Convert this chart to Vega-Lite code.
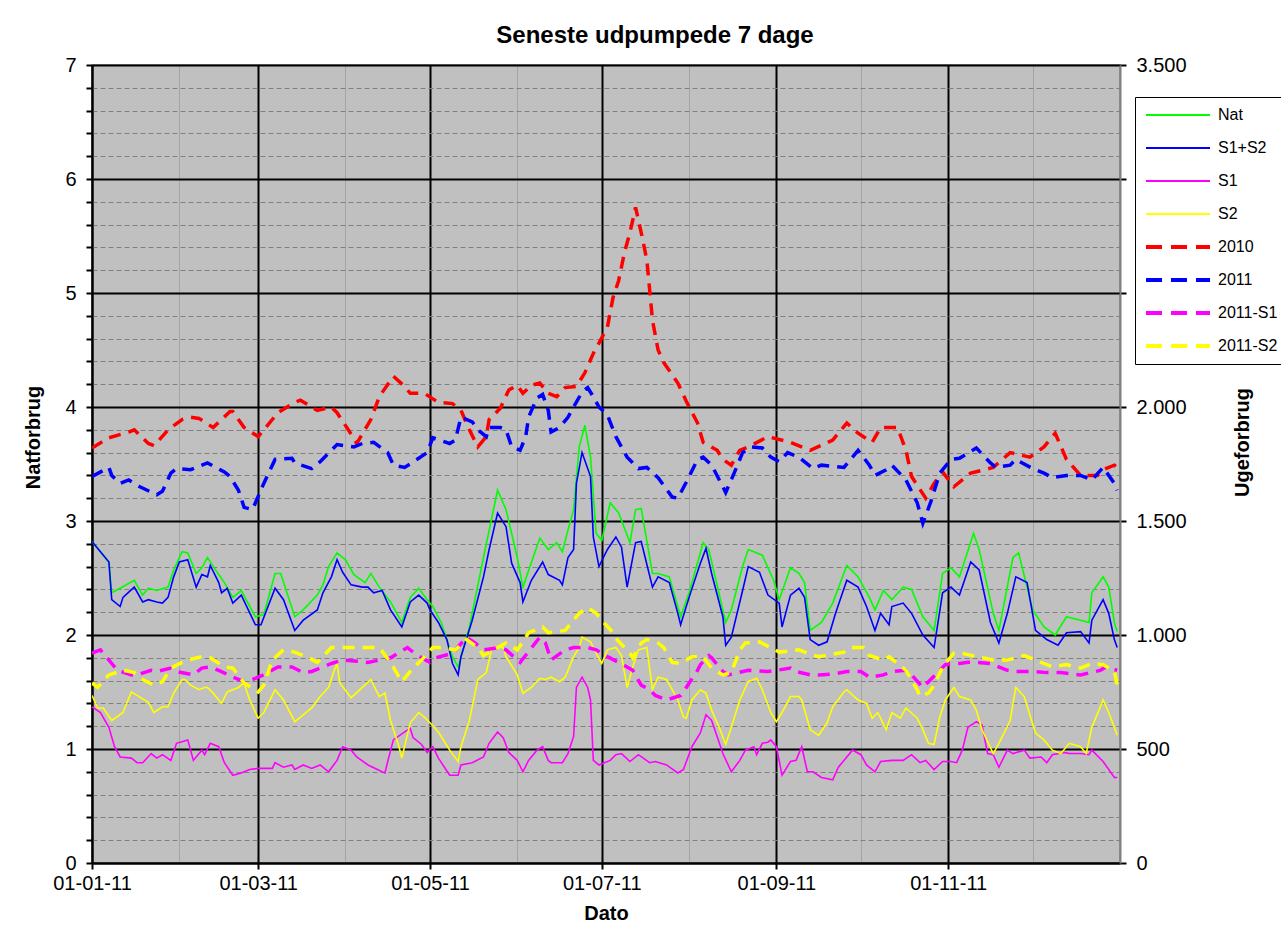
{
  "$schema": "https://vega.github.io/schema/vega-lite/v6.json",
  "width": 1028,
  "height": 798,
  "autosize": {"type": "none"},
  "padding": {"left": 92, "top": 65, "right": 161, "bottom": 78},
  "background": "#ffffff",
  "title": {"text": "Seneste udpumpede 7 dage", "font": "Liberation Sans", "fontSize": 24, "fontWeight": "bold", "color": "#000000", "anchor": "middle", "frame": "group", "dx": 49, "offset": 7},
  "datasets": {
    "solid": [
      {"d":"2011-01-01","s":"Nat","v":2.82},{"d":"2011-01-07","s":"Nat","v":2.64},{"d":"2011-01-08","s":"Nat","v":2.37},{"d":"2011-01-11","s":"Nat","v":2.41},{"d":"2011-01-16","s":"Nat","v":2.48},{"d":"2011-01-19","s":"Nat","v":2.35},{"d":"2011-01-21","s":"Nat","v":2.41},{"d":"2011-01-24","s":"Nat","v":2.39},{"d":"2011-01-28","s":"Nat","v":2.42},{"d":"2011-01-30","s":"Nat","v":2.57},
      {"d":"2011-02-02","s":"Nat","v":2.73},{"d":"2011-02-04","s":"Nat","v":2.72},{"d":"2011-02-07","s":"Nat","v":2.54},{"d":"2011-02-09","s":"Nat","v":2.59},{"d":"2011-02-11","s":"Nat","v":2.68},{"d":"2011-02-15","s":"Nat","v":2.53},{"d":"2011-02-17","s":"Nat","v":2.46},{"d":"2011-02-20","s":"Nat","v":2.33},{"d":"2011-02-23","s":"Nat","v":2.39},{"d":"2011-02-28","s":"Nat","v":2.16},
      {"d":"2011-03-03","s":"Nat","v":2.18},{"d":"2011-03-07","s":"Nat","v":2.54},{"d":"2011-03-09","s":"Nat","v":2.54},{"d":"2011-03-14","s":"Nat","v":2.16},{"d":"2011-03-17","s":"Nat","v":2.22},{"d":"2011-03-22","s":"Nat","v":2.35},{"d":"2011-03-24","s":"Nat","v":2.44},{"d":"2011-03-26","s":"Nat","v":2.6},{"d":"2011-03-29","s":"Nat","v":2.72},
      {"d":"2011-04-01","s":"Nat","v":2.66},{"d":"2011-04-04","s":"Nat","v":2.53},{"d":"2011-04-08","s":"Nat","v":2.46},{"d":"2011-04-10","s":"Nat","v":2.54},{"d":"2011-04-13","s":"Nat","v":2.42},{"d":"2011-04-17","s":"Nat","v":2.29},{"d":"2011-04-21","s":"Nat","v":2.11},{"d":"2011-04-24","s":"Nat","v":2.33},{"d":"2011-04-27","s":"Nat","v":2.41},{"d":"2011-04-30","s":"Nat","v":2.31},
      {"d":"2011-05-02","s":"Nat","v":2.25},{"d":"2011-05-05","s":"Nat","v":2.11},{"d":"2011-05-09","s":"Nat","v":1.81},{"d":"2011-05-11","s":"Nat","v":1.72},{"d":"2011-05-15","s":"Nat","v":2.07},{"d":"2011-05-20","s":"Nat","v":2.68},{"d":"2011-05-25","s":"Nat","v":3.27},{"d":"2011-05-28","s":"Nat","v":3.1},
      {"d":"2011-06-01","s":"Nat","v":2.68},{"d":"2011-06-03","s":"Nat","v":2.42},{"d":"2011-06-09","s":"Nat","v":2.85},{"d":"2011-06-12","s":"Nat","v":2.75},{"d":"2011-06-15","s":"Nat","v":2.81},{"d":"2011-06-17","s":"Nat","v":2.73},{"d":"2011-06-19","s":"Nat","v":2.92},{"d":"2011-06-21","s":"Nat","v":3.1},{"d":"2011-06-23","s":"Nat","v":3.65},{"d":"2011-06-25","s":"Nat","v":3.84},{"d":"2011-06-27","s":"Nat","v":3.56},{"d":"2011-06-29","s":"Nat","v":2.89},
      {"d":"2011-07-01","s":"Nat","v":2.83},{"d":"2011-07-04","s":"Nat","v":3.16},{"d":"2011-07-07","s":"Nat","v":3.07},{"d":"2011-07-11","s":"Nat","v":2.81},{"d":"2011-07-13","s":"Nat","v":3.1},{"d":"2011-07-15","s":"Nat","v":3.11},{"d":"2011-07-19","s":"Nat","v":2.54},{"d":"2011-07-21","s":"Nat","v":2.54},{"d":"2011-07-25","s":"Nat","v":2.51},{"d":"2011-07-29","s":"Nat","v":2.16},
      {"d":"2011-08-01","s":"Nat","v":2.37},{"d":"2011-08-06","s":"Nat","v":2.81},{"d":"2011-08-08","s":"Nat","v":2.75},{"d":"2011-08-13","s":"Nat","v":2.22},{"d":"2011-08-14","s":"Nat","v":2.11},{"d":"2011-08-16","s":"Nat","v":2.22},{"d":"2011-08-20","s":"Nat","v":2.6},{"d":"2011-08-22","s":"Nat","v":2.75},{"d":"2011-08-27","s":"Nat","v":2.7},{"d":"2011-08-31","s":"Nat","v":2.48},
      {"d":"2011-09-02","s":"Nat","v":2.31},{"d":"2011-09-06","s":"Nat","v":2.59},{"d":"2011-09-09","s":"Nat","v":2.54},{"d":"2011-09-11","s":"Nat","v":2.46},{"d":"2011-09-13","s":"Nat","v":2.04},{"d":"2011-09-17","s":"Nat","v":2.11},{"d":"2011-09-21","s":"Nat","v":2.28},{"d":"2011-09-26","s":"Nat","v":2.61},{"d":"2011-09-30","s":"Nat","v":2.51},
      {"d":"2011-10-04","s":"Nat","v":2.33},{"d":"2011-10-06","s":"Nat","v":2.22},{"d":"2011-10-09","s":"Nat","v":2.39},{"d":"2011-10-12","s":"Nat","v":2.31},{"d":"2011-10-16","s":"Nat","v":2.42},{"d":"2011-10-19","s":"Nat","v":2.4},{"d":"2011-10-23","s":"Nat","v":2.16},{"d":"2011-10-27","s":"Nat","v":2.04},{"d":"2011-10-30","s":"Nat","v":2.54},
      {"d":"2011-11-02","s":"Nat","v":2.59},{"d":"2011-11-05","s":"Nat","v":2.51},{"d":"2011-11-10","s":"Nat","v":2.89},{"d":"2011-11-12","s":"Nat","v":2.75},{"d":"2011-11-17","s":"Nat","v":2.19},{"d":"2011-11-19","s":"Nat","v":2.04},{"d":"2011-11-24","s":"Nat","v":2.68},{"d":"2011-11-26","s":"Nat","v":2.72},
      {"d":"2011-12-01","s":"Nat","v":2.22},{"d":"2011-12-05","s":"Nat","v":2.07},{"d":"2011-12-09","s":"Nat","v":2.0},{"d":"2011-12-13","s":"Nat","v":2.16},{"d":"2011-12-18","s":"Nat","v":2.13},{"d":"2011-12-21","s":"Nat","v":2.11},{"d":"2011-12-22","s":"Nat","v":2.37},{"d":"2011-12-26","s":"Nat","v":2.51},{"d":"2011-12-28","s":"Nat","v":2.42},{"d":"2011-12-30","s":"Nat","v":2.11},{"d":"2011-12-31","s":"Nat","v":2.03},

      {"d":"2011-01-01","s":"S1+S2","v":2.82},{"d":"2011-01-07","s":"S1+S2","v":2.64},{"d":"2011-01-08","s":"S1+S2","v":2.31},{"d":"2011-01-11","s":"S1+S2","v":2.25},{"d":"2011-01-12","s":"S1+S2","v":2.33},{"d":"2011-01-16","s":"S1+S2","v":2.42},{"d":"2011-01-19","s":"S1+S2","v":2.29},{"d":"2011-01-21","s":"S1+S2","v":2.31},{"d":"2011-01-24","s":"S1+S2","v":2.29},{"d":"2011-01-26","s":"S1+S2","v":2.28},{"d":"2011-01-28","s":"S1+S2","v":2.33},{"d":"2011-01-30","s":"S1+S2","v":2.51},
      {"d":"2011-02-01","s":"S1+S2","v":2.64},{"d":"2011-02-04","s":"S1+S2","v":2.66},{"d":"2011-02-07","s":"S1+S2","v":2.42},{"d":"2011-02-09","s":"S1+S2","v":2.53},{"d":"2011-02-11","s":"S1+S2","v":2.51},{"d":"2011-02-12","s":"S1+S2","v":2.61},{"d":"2011-02-15","s":"S1+S2","v":2.46},{"d":"2011-02-16","s":"S1+S2","v":2.37},{"d":"2011-02-18","s":"S1+S2","v":2.41},{"d":"2011-02-20","s":"S1+S2","v":2.28},{"d":"2011-02-23","s":"S1+S2","v":2.35},{"d":"2011-02-28","s":"S1+S2","v":2.09},
      {"d":"2011-03-02","s":"S1+S2","v":2.09},{"d":"2011-03-07","s":"S1+S2","v":2.41},{"d":"2011-03-10","s":"S1+S2","v":2.31},{"d":"2011-03-14","s":"S1+S2","v":2.04},{"d":"2011-03-17","s":"S1+S2","v":2.13},{"d":"2011-03-22","s":"S1+S2","v":2.22},{"d":"2011-03-24","s":"S1+S2","v":2.37},{"d":"2011-03-27","s":"S1+S2","v":2.51},{"d":"2011-03-29","s":"S1+S2","v":2.66},{"d":"2011-03-31","s":"S1+S2","v":2.55},
      {"d":"2011-04-03","s":"S1+S2","v":2.44},{"d":"2011-04-07","s":"S1+S2","v":2.42},{"d":"2011-04-09","s":"S1+S2","v":2.42},{"d":"2011-04-11","s":"S1+S2","v":2.37},{"d":"2011-04-14","s":"S1+S2","v":2.39},{"d":"2011-04-17","s":"S1+S2","v":2.22},{"d":"2011-04-21","s":"S1+S2","v":2.07},{"d":"2011-04-24","s":"S1+S2","v":2.29},{"d":"2011-04-27","s":"S1+S2","v":2.35},{"d":"2011-04-30","s":"S1+S2","v":2.28},
      {"d":"2011-05-01","s":"S1+S2","v":2.22},{"d":"2011-05-04","s":"S1+S2","v":2.11},{"d":"2011-05-07","s":"S1+S2","v":1.96},{"d":"2011-05-09","s":"S1+S2","v":1.75},{"d":"2011-05-11","s":"S1+S2","v":1.65},{"d":"2011-05-12","s":"S1+S2","v":1.81},{"d":"2011-05-16","s":"S1+S2","v":2.13},{"d":"2011-05-20","s":"S1+S2","v":2.51},{"d":"2011-05-22","s":"S1+S2","v":2.75},{"d":"2011-05-25","s":"S1+S2","v":3.07},{"d":"2011-05-28","s":"S1+S2","v":2.95},{"d":"2011-05-30","s":"S1+S2","v":2.63},
      {"d":"2011-06-02","s":"S1+S2","v":2.46},{"d":"2011-06-03","s":"S1+S2","v":2.29},{"d":"2011-06-06","s":"S1+S2","v":2.48},{"d":"2011-06-10","s":"S1+S2","v":2.64},{"d":"2011-06-12","s":"S1+S2","v":2.53},{"d":"2011-06-16","s":"S1+S2","v":2.48},{"d":"2011-06-17","s":"S1+S2","v":2.44},{"d":"2011-06-19","s":"S1+S2","v":2.68},{"d":"2011-06-21","s":"S1+S2","v":2.75},{"d":"2011-06-22","s":"S1+S2","v":3.33},{"d":"2011-06-24","s":"S1+S2","v":3.6},{"d":"2011-06-27","s":"S1+S2","v":3.39},{"d":"2011-06-28","s":"S1+S2","v":2.86},{"d":"2011-06-30","s":"S1+S2","v":2.6},
      {"d":"2011-07-03","s":"S1+S2","v":2.75},{"d":"2011-07-06","s":"S1+S2","v":2.86},{"d":"2011-07-08","s":"S1+S2","v":2.77},{"d":"2011-07-10","s":"S1+S2","v":2.42},{"d":"2011-07-13","s":"S1+S2","v":2.81},{"d":"2011-07-15","s":"S1+S2","v":2.82},{"d":"2011-07-19","s":"S1+S2","v":2.42},{"d":"2011-07-21","s":"S1+S2","v":2.51},{"d":"2011-07-25","s":"S1+S2","v":2.46},{"d":"2011-07-28","s":"S1+S2","v":2.19},{"d":"2011-07-29","s":"S1+S2","v":2.09},
      {"d":"2011-08-01","s":"S1+S2","v":2.33},{"d":"2011-08-05","s":"S1+S2","v":2.63},{"d":"2011-08-07","s":"S1+S2","v":2.76},{"d":"2011-08-09","s":"S1+S2","v":2.54},{"d":"2011-08-13","s":"S1+S2","v":2.16},{"d":"2011-08-14","s":"S1+S2","v":1.91},{"d":"2011-08-16","s":"S1+S2","v":1.98},{"d":"2011-08-20","s":"S1+S2","v":2.39},{"d":"2011-08-22","s":"S1+S2","v":2.6},{"d":"2011-08-26","s":"S1+S2","v":2.55},{"d":"2011-08-29","s":"S1+S2","v":2.35},
      {"d":"2011-09-02","s":"S1+S2","v":2.28},{"d":"2011-09-03","s":"S1+S2","v":2.07},{"d":"2011-09-06","s":"S1+S2","v":2.35},{"d":"2011-09-09","s":"S1+S2","v":2.41},{"d":"2011-09-11","s":"S1+S2","v":2.33},{"d":"2011-09-13","s":"S1+S2","v":1.96},{"d":"2011-09-16","s":"S1+S2","v":1.91},{"d":"2011-09-19","s":"S1+S2","v":1.94},{"d":"2011-09-22","s":"S1+S2","v":2.19},{"d":"2011-09-26","s":"S1+S2","v":2.48},{"d":"2011-09-30","s":"S1+S2","v":2.42},
      {"d":"2011-10-03","s":"S1+S2","v":2.25},{"d":"2011-10-06","s":"S1+S2","v":2.04},{"d":"2011-10-08","s":"S1+S2","v":2.19},{"d":"2011-10-11","s":"S1+S2","v":2.09},{"d":"2011-10-12","s":"S1+S2","v":2.25},{"d":"2011-10-16","s":"S1+S2","v":2.28},{"d":"2011-10-19","s":"S1+S2","v":2.19},{"d":"2011-10-23","s":"S1+S2","v":2.0},{"d":"2011-10-27","s":"S1+S2","v":1.89},{"d":"2011-10-30","s":"S1+S2","v":2.37},
      {"d":"2011-11-02","s":"S1+S2","v":2.42},{"d":"2011-11-05","s":"S1+S2","v":2.35},{"d":"2011-11-09","s":"S1+S2","v":2.64},{"d":"2011-11-12","s":"S1+S2","v":2.57},{"d":"2011-11-16","s":"S1+S2","v":2.11},{"d":"2011-11-19","s":"S1+S2","v":1.93},{"d":"2011-11-22","s":"S1+S2","v":2.19},{"d":"2011-11-25","s":"S1+S2","v":2.51},{"d":"2011-11-29","s":"S1+S2","v":2.46},
      {"d":"2011-12-02","s":"S1+S2","v":2.04},{"d":"2011-12-06","s":"S1+S2","v":1.96},{"d":"2011-12-10","s":"S1+S2","v":1.91},{"d":"2011-12-13","s":"S1+S2","v":2.02},{"d":"2011-12-18","s":"S1+S2","v":2.03},{"d":"2011-12-21","s":"S1+S2","v":1.93},{"d":"2011-12-22","s":"S1+S2","v":2.13},{"d":"2011-12-26","s":"S1+S2","v":2.31},{"d":"2011-12-28","s":"S1+S2","v":2.19},{"d":"2011-12-30","s":"S1+S2","v":1.96},{"d":"2011-12-31","s":"S1+S2","v":1.89},

      {"d":"2011-01-01","s":"S1","v":1.37},{"d":"2011-01-04","s":"S1","v":1.32},{"d":"2011-01-07","s":"S1","v":1.19},{"d":"2011-01-09","s":"S1","v":1.02},{"d":"2011-01-11","s":"S1","v":0.93},{"d":"2011-01-15","s":"S1","v":0.92},{"d":"2011-01-17","s":"S1","v":0.88},{"d":"2011-01-19","s":"S1","v":0.88},{"d":"2011-01-22","s":"S1","v":0.96},{"d":"2011-01-24","s":"S1","v":0.92},{"d":"2011-01-26","s":"S1","v":0.95},{"d":"2011-01-29","s":"S1","v":0.9},{"d":"2011-01-31","s":"S1","v":1.05},
      {"d":"2011-02-04","s":"S1","v":1.08},{"d":"2011-02-06","s":"S1","v":0.9},{"d":"2011-02-09","s":"S1","v":0.99},{"d":"2011-02-10","s":"S1","v":0.95},{"d":"2011-02-12","s":"S1","v":1.05},{"d":"2011-02-15","s":"S1","v":1.02},{"d":"2011-02-17","s":"S1","v":0.88},{"d":"2011-02-20","s":"S1","v":0.77},{"d":"2011-02-23","s":"S1","v":0.79},{"d":"2011-02-26","s":"S1","v":0.82},
      {"d":"2011-03-01","s":"S1","v":0.83},{"d":"2011-03-06","s":"S1","v":0.83},{"d":"2011-03-07","s":"S1","v":0.88},{"d":"2011-03-10","s":"S1","v":0.84},{"d":"2011-03-13","s":"S1","v":0.86},{"d":"2011-03-14","s":"S1","v":0.82},{"d":"2011-03-17","s":"S1","v":0.86},{"d":"2011-03-20","s":"S1","v":0.83},{"d":"2011-03-23","s":"S1","v":0.86},{"d":"2011-03-26","s":"S1","v":0.8},{"d":"2011-03-29","s":"S1","v":0.9},{"d":"2011-03-31","s":"S1","v":1.02},
      {"d":"2011-04-03","s":"S1","v":0.99},{"d":"2011-04-05","s":"S1","v":0.93},{"d":"2011-04-09","s":"S1","v":0.86},{"d":"2011-04-14","s":"S1","v":0.8},{"d":"2011-04-15","s":"S1","v":0.79},{"d":"2011-04-16","s":"S1","v":0.89},{"d":"2011-04-18","s":"S1","v":1.08},{"d":"2011-04-22","s":"S1","v":1.15},{"d":"2011-04-24","s":"S1","v":1.18},{"d":"2011-04-25","s":"S1","v":1.1},{"d":"2011-04-28","s":"S1","v":1.04},{"d":"2011-04-30","s":"S1","v":0.97},
      {"d":"2011-05-02","s":"S1","v":1.02},{"d":"2011-05-03","s":"S1","v":0.97},{"d":"2011-05-04","s":"S1","v":0.92},{"d":"2011-05-08","s":"S1","v":0.77},{"d":"2011-05-11","s":"S1","v":0.77},{"d":"2011-05-12","s":"S1","v":0.86},{"d":"2011-05-16","s":"S1","v":0.88},{"d":"2011-05-20","s":"S1","v":0.93},{"d":"2011-05-22","s":"S1","v":1.05},{"d":"2011-05-25","s":"S1","v":1.15},{"d":"2011-05-27","s":"S1","v":1.1},{"d":"2011-05-29","s":"S1","v":0.97},
      {"d":"2011-06-01","s":"S1","v":0.9},{"d":"2011-06-03","s":"S1","v":0.8},{"d":"2011-06-05","s":"S1","v":0.9},{"d":"2011-06-08","s":"S1","v":0.99},{"d":"2011-06-10","s":"S1","v":1.02},{"d":"2011-06-12","s":"S1","v":0.9},{"d":"2011-06-13","s":"S1","v":0.88},{"d":"2011-06-17","s":"S1","v":0.88},{"d":"2011-06-19","s":"S1","v":0.96},{"d":"2011-06-21","s":"S1","v":1.11},{"d":"2011-06-22","s":"S1","v":1.54},{"d":"2011-06-24","s":"S1","v":1.63},{"d":"2011-06-26","s":"S1","v":1.54},{"d":"2011-06-27","s":"S1","v":1.43},{"d":"2011-06-28","s":"S1","v":0.9},{"d":"2011-06-30","s":"S1","v":0.86},
      {"d":"2011-07-04","s":"S1","v":0.9},{"d":"2011-07-06","s":"S1","v":0.95},{"d":"2011-07-08","s":"S1","v":0.96},{"d":"2011-07-11","s":"S1","v":0.89},{"d":"2011-07-14","s":"S1","v":0.95},{"d":"2011-07-18","s":"S1","v":0.88},{"d":"2011-07-20","s":"S1","v":0.89},{"d":"2011-07-24","s":"S1","v":0.86},{"d":"2011-07-28","s":"S1","v":0.79},{"d":"2011-07-30","s":"S1","v":0.82},
      {"d":"2011-08-02","s":"S1","v":1.02},{"d":"2011-08-05","s":"S1","v":1.14},{"d":"2011-08-07","s":"S1","v":1.3},{"d":"2011-08-09","s":"S1","v":1.25},{"d":"2011-08-13","s":"S1","v":0.96},{"d":"2011-08-16","s":"S1","v":0.8},{"d":"2011-08-19","s":"S1","v":0.9},{"d":"2011-08-21","s":"S1","v":0.99},{"d":"2011-08-24","s":"S1","v":1.02},{"d":"2011-08-25","s":"S1","v":0.95},{"d":"2011-08-27","s":"S1","v":1.05},{"d":"2011-08-29","s":"S1","v":1.06},{"d":"2011-08-30","s":"S1","v":1.08},
      {"d":"2011-09-01","s":"S1","v":1.02},{"d":"2011-09-03","s":"S1","v":0.77},{"d":"2011-09-06","s":"S1","v":0.89},{"d":"2011-09-08","s":"S1","v":0.9},{"d":"2011-09-10","s":"S1","v":1.02},{"d":"2011-09-12","s":"S1","v":0.8},{"d":"2011-09-14","s":"S1","v":0.8},{"d":"2011-09-17","s":"S1","v":0.75},{"d":"2011-09-21","s":"S1","v":0.73},{"d":"2011-09-23","s":"S1","v":0.84},{"d":"2011-09-26","s":"S1","v":0.93},{"d":"2011-09-28","s":"S1","v":0.99},
      {"d":"2011-10-01","s":"S1","v":0.95},{"d":"2011-10-03","s":"S1","v":0.86},{"d":"2011-10-06","s":"S1","v":0.8},{"d":"2011-10-08","s":"S1","v":0.89},{"d":"2011-10-12","s":"S1","v":0.9},{"d":"2011-10-16","s":"S1","v":0.9},{"d":"2011-10-19","s":"S1","v":0.95},{"d":"2011-10-22","s":"S1","v":0.88},{"d":"2011-10-24","s":"S1","v":0.9},{"d":"2011-10-27","s":"S1","v":0.82},{"d":"2011-10-30","s":"S1","v":0.89},
      {"d":"2011-11-02","s":"S1","v":0.89},{"d":"2011-11-04","s":"S1","v":0.88},{"d":"2011-11-06","s":"S1","v":0.99},{"d":"2011-11-08","s":"S1","v":1.19},{"d":"2011-11-11","s":"S1","v":1.24},{"d":"2011-11-13","s":"S1","v":1.21},{"d":"2011-11-15","s":"S1","v":0.96},{"d":"2011-11-17","s":"S1","v":0.95},{"d":"2011-11-19","s":"S1","v":0.84},{"d":"2011-11-22","s":"S1","v":0.99},{"d":"2011-11-24","s":"S1","v":0.96},{"d":"2011-11-28","s":"S1","v":0.99},{"d":"2011-11-30","s":"S1","v":0.92},
      {"d":"2011-12-04","s":"S1","v":0.93},{"d":"2011-12-06","s":"S1","v":0.88},{"d":"2011-12-08","s":"S1","v":0.95},{"d":"2011-12-12","s":"S1","v":0.97},{"d":"2011-12-14","s":"S1","v":0.96},{"d":"2011-12-18","s":"S1","v":0.96},{"d":"2011-12-21","s":"S1","v":0.95},{"d":"2011-12-22","s":"S1","v":0.99},{"d":"2011-12-26","s":"S1","v":0.89},{"d":"2011-12-30","s":"S1","v":0.75},{"d":"2011-12-31","s":"S1","v":0.75},

      {"d":"2011-01-01","s":"S2","v":1.47},{"d":"2011-01-03","s":"S2","v":1.36},{"d":"2011-01-05","s":"S2","v":1.36},{"d":"2011-01-08","s":"S2","v":1.25},{"d":"2011-01-12","s":"S2","v":1.32},{"d":"2011-01-15","s":"S2","v":1.5},{"d":"2011-01-17","s":"S2","v":1.47},{"d":"2011-01-21","s":"S2","v":1.41},{"d":"2011-01-23","s":"S2","v":1.32},{"d":"2011-01-26","s":"S2","v":1.37},{"d":"2011-01-28","s":"S2","v":1.37},{"d":"2011-01-30","s":"S2","v":1.49},
      {"d":"2011-02-02","s":"S2","v":1.61},{"d":"2011-02-03","s":"S2","v":1.61},{"d":"2011-02-05","s":"S2","v":1.56},{"d":"2011-02-08","s":"S2","v":1.52},{"d":"2011-02-10","s":"S2","v":1.54},{"d":"2011-02-11","s":"S2","v":1.54},{"d":"2011-02-13","s":"S2","v":1.49},{"d":"2011-02-16","s":"S2","v":1.4},{"d":"2011-02-18","s":"S2","v":1.5},{"d":"2011-02-22","s":"S2","v":1.54},{"d":"2011-02-24","s":"S2","v":1.58},{"d":"2011-02-26","s":"S2","v":1.43},
      {"d":"2011-03-01","s":"S2","v":1.27},{"d":"2011-03-03","s":"S2","v":1.32},{"d":"2011-03-07","s":"S2","v":1.52},{"d":"2011-03-10","s":"S2","v":1.43},{"d":"2011-03-14","s":"S2","v":1.24},{"d":"2011-03-17","s":"S2","v":1.3},{"d":"2011-03-20","s":"S2","v":1.36},{"d":"2011-03-23","s":"S2","v":1.46},{"d":"2011-03-26","s":"S2","v":1.54},{"d":"2011-03-28","s":"S2","v":1.69},{"d":"2011-03-29","s":"S2","v":1.75},{"d":"2011-03-30","s":"S2","v":1.58},
      {"d":"2011-04-03","s":"S2","v":1.45},{"d":"2011-04-07","s":"S2","v":1.54},{"d":"2011-04-10","s":"S2","v":1.61},{"d":"2011-04-13","s":"S2","v":1.46},{"d":"2011-04-15","s":"S2","v":1.49},{"d":"2011-04-17","s":"S2","v":1.25},{"d":"2011-04-20","s":"S2","v":1.02},{"d":"2011-04-21","s":"S2","v":0.92},{"d":"2011-04-24","s":"S2","v":1.23},{"d":"2011-04-27","s":"S2","v":1.32},{"d":"2011-04-29","s":"S2","v":1.28},
      {"d":"2011-05-01","s":"S2","v":1.23},{"d":"2011-05-04","s":"S2","v":1.15},{"d":"2011-05-05","s":"S2","v":1.11},{"d":"2011-05-08","s":"S2","v":0.99},{"d":"2011-05-11","s":"S2","v":0.89},{"d":"2011-05-12","s":"S2","v":1.02},{"d":"2011-05-15","s":"S2","v":1.25},{"d":"2011-05-18","s":"S2","v":1.61},{"d":"2011-05-21","s":"S2","v":1.67},{"d":"2011-05-23","s":"S2","v":1.89},{"d":"2011-05-27","s":"S2","v":1.89},{"d":"2011-05-28","s":"S2","v":1.81},
      {"d":"2011-06-01","s":"S2","v":1.65},{"d":"2011-06-03","s":"S2","v":1.49},{"d":"2011-06-06","s":"S2","v":1.54},{"d":"2011-06-09","s":"S2","v":1.62},{"d":"2011-06-11","s":"S2","v":1.61},{"d":"2011-06-13","s":"S2","v":1.63},{"d":"2011-06-16","s":"S2","v":1.59},{"d":"2011-06-18","s":"S2","v":1.63},{"d":"2011-06-21","s":"S2","v":1.81},{"d":"2011-06-23","s":"S2","v":1.89},{"d":"2011-06-24","s":"S2","v":1.98},{"d":"2011-06-27","s":"S2","v":1.94},{"d":"2011-06-29","s":"S2","v":1.84},
      {"d":"2011-07-01","s":"S2","v":1.75},{"d":"2011-07-03","s":"S2","v":1.87},{"d":"2011-07-06","s":"S2","v":1.89},{"d":"2011-07-08","s":"S2","v":1.82},{"d":"2011-07-10","s":"S2","v":1.54},{"d":"2011-07-12","s":"S2","v":1.72},{"d":"2011-07-14","s":"S2","v":1.87},{"d":"2011-07-17","s":"S2","v":1.89},{"d":"2011-07-19","s":"S2","v":1.52},{"d":"2011-07-21","s":"S2","v":1.63},{"d":"2011-07-24","s":"S2","v":1.61},{"d":"2011-07-28","s":"S2","v":1.43},{"d":"2011-07-30","s":"S2","v":1.28},{"d":"2011-07-31","s":"S2","v":1.27},
      {"d":"2011-08-02","s":"S2","v":1.43},{"d":"2011-08-05","s":"S2","v":1.52},{"d":"2011-08-07","s":"S2","v":1.49},{"d":"2011-08-09","s":"S2","v":1.34},{"d":"2011-08-12","s":"S2","v":1.17},{"d":"2011-08-14","s":"S2","v":1.04},{"d":"2011-08-16","s":"S2","v":1.19},{"d":"2011-08-19","s":"S2","v":1.43},{"d":"2011-08-22","s":"S2","v":1.59},{"d":"2011-08-25","s":"S2","v":1.62},{"d":"2011-08-27","s":"S2","v":1.52},{"d":"2011-08-30","s":"S2","v":1.32},
      {"d":"2011-09-01","s":"S2","v":1.24},{"d":"2011-09-03","s":"S2","v":1.32},{"d":"2011-09-06","s":"S2","v":1.46},{"d":"2011-09-09","s":"S2","v":1.46},{"d":"2011-09-10","s":"S2","v":1.43},{"d":"2011-09-13","s":"S2","v":1.17},{"d":"2011-09-16","s":"S2","v":1.12},{"d":"2011-09-19","s":"S2","v":1.23},{"d":"2011-09-21","s":"S2","v":1.37},{"d":"2011-09-25","s":"S2","v":1.5},{"d":"2011-09-26","s":"S2","v":1.52},{"d":"2011-09-30","s":"S2","v":1.43},
      {"d":"2011-10-03","s":"S2","v":1.4},{"d":"2011-10-05","s":"S2","v":1.27},{"d":"2011-10-07","s":"S2","v":1.32},{"d":"2011-10-10","s":"S2","v":1.17},{"d":"2011-10-12","s":"S2","v":1.32},{"d":"2011-10-15","s":"S2","v":1.27},{"d":"2011-10-17","s":"S2","v":1.36},{"d":"2011-10-21","s":"S2","v":1.27},{"d":"2011-10-23","s":"S2","v":1.17},{"d":"2011-10-25","s":"S2","v":1.05},{"d":"2011-10-27","s":"S2","v":1.04},{"d":"2011-10-29","s":"S2","v":1.28},{"d":"2011-10-31","s":"S2","v":1.43},
      {"d":"2011-11-03","s":"S2","v":1.54},{"d":"2011-11-05","s":"S2","v":1.46},{"d":"2011-11-09","s":"S2","v":1.43},{"d":"2011-11-11","s":"S2","v":1.34},{"d":"2011-11-13","s":"S2","v":1.17},{"d":"2011-11-17","s":"S2","v":0.96},{"d":"2011-11-19","s":"S2","v":1.05},{"d":"2011-11-23","s":"S2","v":1.25},{"d":"2011-11-25","s":"S2","v":1.54},{"d":"2011-11-28","s":"S2","v":1.46},
      {"d":"2011-12-02","s":"S2","v":1.14},{"d":"2011-12-05","s":"S2","v":1.08},{"d":"2011-12-08","s":"S2","v":0.99},{"d":"2011-12-11","s":"S2","v":0.96},{"d":"2011-12-14","s":"S2","v":1.05},{"d":"2011-12-18","s":"S2","v":1.02},{"d":"2011-12-20","s":"S2","v":0.96},{"d":"2011-12-22","s":"S2","v":1.19},{"d":"2011-12-26","s":"S2","v":1.43},{"d":"2011-12-28","s":"S2","v":1.32},{"d":"2011-12-31","s":"S2","v":1.12}
    ],
    "dashed": [
      {"d":"2011-01-01","s":"2010","v":1820},{"d":"2011-01-07","s":"2010","v":1865},{"d":"2011-01-14","s":"2010","v":1890},{"d":"2011-01-16","s":"2010","v":1900},{"d":"2011-01-21","s":"2010","v":1840},{"d":"2011-01-23","s":"2010","v":1830},{"d":"2011-01-27","s":"2010","v":1885},{"d":"2011-01-28","s":"2010","v":1900},
      {"d":"2011-02-02","s":"2010","v":1945},{"d":"2011-02-05","s":"2010","v":1955},{"d":"2011-02-08","s":"2010","v":1950},{"d":"2011-02-13","s":"2010","v":1910},{"d":"2011-02-19","s":"2010","v":1980},{"d":"2011-02-20","s":"2010","v":1980},{"d":"2011-02-24","s":"2010","v":1910},
      {"d":"2011-03-01","s":"2010","v":1870},{"d":"2011-03-03","s":"2010","v":1900},{"d":"2011-03-08","s":"2010","v":1975},{"d":"2011-03-14","s":"2010","v":2020},{"d":"2011-03-16","s":"2010","v":2030},{"d":"2011-03-22","s":"2010","v":1985},{"d":"2011-03-27","s":"2010","v":2000},{"d":"2011-03-29","s":"2010","v":1975},
      {"d":"2011-04-02","s":"2010","v":1900},{"d":"2011-04-05","s":"2010","v":1840},{"d":"2011-04-10","s":"2010","v":1945},{"d":"2011-04-13","s":"2010","v":2045},{"d":"2011-04-18","s":"2010","v":2135},{"d":"2011-04-22","s":"2010","v":2090},{"d":"2011-04-24","s":"2010","v":2060},{"d":"2011-04-29","s":"2010","v":2060},
      {"d":"2011-05-04","s":"2010","v":2020},{"d":"2011-05-09","s":"2010","v":2015},{"d":"2011-05-12","s":"2010","v":1985},{"d":"2011-05-15","s":"2010","v":1900},{"d":"2011-05-18","s":"2010","v":1825},{"d":"2011-05-21","s":"2010","v":1870},{"d":"2011-05-22","s":"2010","v":1945},{"d":"2011-05-26","s":"2010","v":1995},{"d":"2011-05-29","s":"2010","v":2075},
      {"d":"2011-06-01","s":"2010","v":2095},{"d":"2011-06-03","s":"2010","v":2060},{"d":"2011-06-06","s":"2010","v":2095},{"d":"2011-06-09","s":"2010","v":2105},{"d":"2011-06-12","s":"2010","v":2060},{"d":"2011-06-15","s":"2010","v":2045},{"d":"2011-06-18","s":"2010","v":2085},{"d":"2011-06-22","s":"2010","v":2090},{"d":"2011-06-25","s":"2010","v":2150},{"d":"2011-06-28","s":"2010","v":2235},{"d":"2011-06-30","s":"2010","v":2280},
      {"d":"2011-07-03","s":"2010","v":2350},{"d":"2011-07-05","s":"2010","v":2480},{"d":"2011-07-07","s":"2010","v":2555},{"d":"2011-07-09","s":"2010","v":2675},{"d":"2011-07-11","s":"2010","v":2765},{"d":"2011-07-13","s":"2010","v":2875},{"d":"2011-07-15","s":"2010","v":2765},{"d":"2011-07-17","s":"2010","v":2645},{"d":"2011-07-18","s":"2010","v":2515},{"d":"2011-07-19","s":"2010","v":2380},{"d":"2011-07-21","s":"2010","v":2250},{"d":"2011-07-23","s":"2010","v":2195},{"d":"2011-07-28","s":"2010","v":2105},{"d":"2011-07-31","s":"2010","v":2025},
      {"d":"2011-08-04","s":"2010","v":1930},{"d":"2011-08-06","s":"2010","v":1845},{"d":"2011-08-11","s":"2010","v":1810},{"d":"2011-08-13","s":"2010","v":1770},{"d":"2011-08-16","s":"2010","v":1745},{"d":"2011-08-19","s":"2010","v":1810},{"d":"2011-08-22","s":"2010","v":1825},{"d":"2011-08-29","s":"2010","v":1870},
      {"d":"2011-09-06","s":"2010","v":1845},{"d":"2011-09-13","s":"2010","v":1810},{"d":"2011-09-21","s":"2010","v":1855},{"d":"2011-09-26","s":"2010","v":1930},{"d":"2011-09-30","s":"2010","v":1885},
      {"d":"2011-10-05","s":"2010","v":1845},{"d":"2011-10-08","s":"2010","v":1910},{"d":"2011-10-14","s":"2010","v":1910},{"d":"2011-10-17","s":"2010","v":1810},{"d":"2011-10-19","s":"2010","v":1695},{"d":"2011-10-24","s":"2010","v":1600},{"d":"2011-10-27","s":"2010","v":1665},{"d":"2011-10-30","s":"2010","v":1715},
      {"d":"2011-11-03","s":"2010","v":1650},{"d":"2011-11-09","s":"2010","v":1710},{"d":"2011-11-17","s":"2010","v":1735},{"d":"2011-11-23","s":"2010","v":1800},{"d":"2011-11-30","s":"2010","v":1780},
      {"d":"2011-12-05","s":"2010","v":1825},{"d":"2011-12-09","s":"2010","v":1885},{"d":"2011-12-13","s":"2010","v":1770},{"d":"2011-12-18","s":"2010","v":1700},{"d":"2011-12-24","s":"2010","v":1700},{"d":"2011-12-26","s":"2010","v":1725},{"d":"2011-12-30","s":"2010","v":1745},{"d":"2011-12-31","s":"2010","v":1735},

      {"d":"2011-01-01","s":"2011","v":1695},{"d":"2011-01-07","s":"2011","v":1735},{"d":"2011-01-08","s":"2011","v":1700},{"d":"2011-01-11","s":"2011","v":1665},{"d":"2011-01-14","s":"2011","v":1680},{"d":"2011-01-18","s":"2011","v":1650},{"d":"2011-01-24","s":"2011","v":1615},{"d":"2011-01-26","s":"2011","v":1630},{"d":"2011-01-29","s":"2011","v":1710},{"d":"2011-01-31","s":"2011","v":1730},
      {"d":"2011-02-05","s":"2011","v":1725},{"d":"2011-02-11","s":"2011","v":1755},{"d":"2011-02-17","s":"2011","v":1715},{"d":"2011-02-19","s":"2011","v":1695},{"d":"2011-02-22","s":"2011","v":1635},{"d":"2011-02-24","s":"2011","v":1560},{"d":"2011-02-27","s":"2011","v":1550},
      {"d":"2011-03-03","s":"2011","v":1665},{"d":"2011-03-07","s":"2011","v":1770},{"d":"2011-03-13","s":"2011","v":1775},{"d":"2011-03-14","s":"2011","v":1755},{"d":"2011-03-20","s":"2011","v":1730},{"d":"2011-03-23","s":"2011","v":1760},{"d":"2011-03-27","s":"2011","v":1810},{"d":"2011-03-29","s":"2011","v":1835},
      {"d":"2011-04-04","s":"2011","v":1825},{"d":"2011-04-07","s":"2011","v":1840},{"d":"2011-04-11","s":"2011","v":1845},{"d":"2011-04-16","s":"2011","v":1800},{"d":"2011-04-18","s":"2011","v":1745},{"d":"2011-04-22","s":"2011","v":1735},{"d":"2011-04-27","s":"2011","v":1775},{"d":"2011-04-30","s":"2011","v":1800},
      {"d":"2011-05-02","s":"2011","v":1865},{"d":"2011-05-08","s":"2011","v":1840},{"d":"2011-05-10","s":"2011","v":1855},{"d":"2011-05-12","s":"2011","v":1955},{"d":"2011-05-16","s":"2011","v":1935},{"d":"2011-05-18","s":"2011","v":1900},{"d":"2011-05-21","s":"2011","v":1870},{"d":"2011-05-22","s":"2011","v":1910},{"d":"2011-05-26","s":"2011","v":1910},{"d":"2011-05-28","s":"2011","v":1900},{"d":"2011-05-30","s":"2011","v":1825},
      {"d":"2011-06-02","s":"2011","v":1810},{"d":"2011-06-04","s":"2011","v":1870},{"d":"2011-06-05","s":"2011","v":1955},{"d":"2011-06-08","s":"2011","v":2040},{"d":"2011-06-10","s":"2011","v":2055},{"d":"2011-06-12","s":"2011","v":1985},{"d":"2011-06-13","s":"2011","v":1890},{"d":"2011-06-16","s":"2011","v":1910},{"d":"2011-06-19","s":"2011","v":1955},{"d":"2011-06-21","s":"2011","v":2000},{"d":"2011-06-24","s":"2011","v":2065},{"d":"2011-06-26","s":"2011","v":2085},{"d":"2011-06-28","s":"2011","v":2045},{"d":"2011-06-30","s":"2011","v":2000},
      {"d":"2011-07-03","s":"2011","v":1965},{"d":"2011-07-06","s":"2011","v":1870},{"d":"2011-07-10","s":"2011","v":1780},{"d":"2011-07-14","s":"2011","v":1730},{"d":"2011-07-17","s":"2011","v":1735},{"d":"2011-07-21","s":"2011","v":1690},{"d":"2011-07-26","s":"2011","v":1605},{"d":"2011-07-28","s":"2011","v":1600},{"d":"2011-07-31","s":"2011","v":1670},
      {"d":"2011-08-04","s":"2011","v":1770},{"d":"2011-08-06","s":"2011","v":1780},{"d":"2011-08-09","s":"2011","v":1745},{"d":"2011-08-13","s":"2011","v":1650},{"d":"2011-08-14","s":"2011","v":1625},{"d":"2011-08-17","s":"2011","v":1710},{"d":"2011-08-20","s":"2011","v":1800},{"d":"2011-08-23","s":"2011","v":1825},{"d":"2011-08-27","s":"2011","v":1820},{"d":"2011-08-30","s":"2011","v":1780},
      {"d":"2011-09-02","s":"2011","v":1760},{"d":"2011-09-05","s":"2011","v":1800},{"d":"2011-09-09","s":"2011","v":1780},{"d":"2011-09-14","s":"2011","v":1730},{"d":"2011-09-17","s":"2011","v":1745},{"d":"2011-09-25","s":"2011","v":1735},{"d":"2011-09-30","s":"2011","v":1810},
      {"d":"2011-10-04","s":"2011","v":1745},{"d":"2011-10-06","s":"2011","v":1700},{"d":"2011-10-10","s":"2011","v":1725},{"d":"2011-10-12","s":"2011","v":1745},{"d":"2011-10-17","s":"2011","v":1680},{"d":"2011-10-21","s":"2011","v":1580},{"d":"2011-10-23","s":"2011","v":1490},{"d":"2011-10-26","s":"2011","v":1590},{"d":"2011-10-29","s":"2011","v":1710},
      {"d":"2011-11-02","s":"2011","v":1770},{"d":"2011-11-05","s":"2011","v":1775},{"d":"2011-11-11","s":"2011","v":1820},{"d":"2011-11-16","s":"2011","v":1755},{"d":"2011-11-18","s":"2011","v":1735},{"d":"2011-11-23","s":"2011","v":1745},{"d":"2011-11-25","s":"2011","v":1770},
      {"d":"2011-12-01","s":"2011","v":1730},{"d":"2011-12-05","s":"2011","v":1710},{"d":"2011-12-08","s":"2011","v":1690},{"d":"2011-12-13","s":"2011","v":1700},{"d":"2011-12-18","s":"2011","v":1700},{"d":"2011-12-22","s":"2011","v":1680},{"d":"2011-12-26","s":"2011","v":1735},{"d":"2011-12-30","s":"2011","v":1665},{"d":"2011-12-31","s":"2011","v":1635},

      {"d":"2011-01-01","s":"2011-S1","v":920},{"d":"2011-01-04","s":"2011-S1","v":935},{"d":"2011-01-08","s":"2011-S1","v":875},{"d":"2011-01-10","s":"2011-S1","v":845},{"d":"2011-01-15","s":"2011-S1","v":825},{"d":"2011-01-17","s":"2011-S1","v":825},{"d":"2011-01-22","s":"2011-S1","v":845},{"d":"2011-01-24","s":"2011-S1","v":840},{"d":"2011-01-29","s":"2011-S1","v":855},{"d":"2011-01-31","s":"2011-S1","v":840},
      {"d":"2011-02-06","s":"2011-S1","v":825},{"d":"2011-02-09","s":"2011-S1","v":855},{"d":"2011-02-12","s":"2011-S1","v":860},{"d":"2011-02-15","s":"2011-S1","v":845},{"d":"2011-02-20","s":"2011-S1","v":815},{"d":"2011-02-24","s":"2011-S1","v":795},{"d":"2011-02-27","s":"2011-S1","v":805},
      {"d":"2011-03-03","s":"2011-S1","v":825},{"d":"2011-03-08","s":"2011-S1","v":860},{"d":"2011-03-13","s":"2011-S1","v":860},{"d":"2011-03-17","s":"2011-S1","v":835},{"d":"2011-03-20","s":"2011-S1","v":840},{"d":"2011-03-24","s":"2011-S1","v":860},{"d":"2011-03-27","s":"2011-S1","v":875},{"d":"2011-03-31","s":"2011-S1","v":890},
      {"d":"2011-04-05","s":"2011-S1","v":885},{"d":"2011-04-09","s":"2011-S1","v":880},{"d":"2011-04-13","s":"2011-S1","v":890},{"d":"2011-04-17","s":"2011-S1","v":900},{"d":"2011-04-23","s":"2011-S1","v":945},{"d":"2011-04-25","s":"2011-S1","v":925},{"d":"2011-04-28","s":"2011-S1","v":900},
      {"d":"2011-05-01","s":"2011-S1","v":880},{"d":"2011-05-03","s":"2011-S1","v":900},{"d":"2011-05-09","s":"2011-S1","v":920},{"d":"2011-05-14","s":"2011-S1","v":990},{"d":"2011-05-17","s":"2011-S1","v":965},{"d":"2011-05-20","s":"2011-S1","v":935},{"d":"2011-05-26","s":"2011-S1","v":945},{"d":"2011-05-28","s":"2011-S1","v":935},
      {"d":"2011-06-02","s":"2011-S1","v":880},{"d":"2011-06-09","s":"2011-S1","v":990},{"d":"2011-06-11","s":"2011-S1","v":965},{"d":"2011-06-13","s":"2011-S1","v":890},{"d":"2011-06-18","s":"2011-S1","v":935},{"d":"2011-06-21","s":"2011-S1","v":945},{"d":"2011-06-26","s":"2011-S1","v":945},{"d":"2011-06-29","s":"2011-S1","v":935},
      {"d":"2011-07-03","s":"2011-S1","v":905},{"d":"2011-07-10","s":"2011-S1","v":860},{"d":"2011-07-12","s":"2011-S1","v":845},{"d":"2011-07-15","s":"2011-S1","v":780},{"d":"2011-07-18","s":"2011-S1","v":760},{"d":"2011-07-20","s":"2011-S1","v":735},{"d":"2011-07-24","s":"2011-S1","v":715},{"d":"2011-07-29","s":"2011-S1","v":735},{"d":"2011-07-31","s":"2011-S1","v":770},
      {"d":"2011-08-04","s":"2011-S1","v":845},{"d":"2011-08-05","s":"2011-S1","v":870},{"d":"2011-08-08","s":"2011-S1","v":910},{"d":"2011-08-09","s":"2011-S1","v":900},{"d":"2011-08-13","s":"2011-S1","v":840},{"d":"2011-08-15","s":"2011-S1","v":825},{"d":"2011-08-22","s":"2011-S1","v":845},{"d":"2011-08-29","s":"2011-S1","v":840},
      {"d":"2011-09-01","s":"2011-S1","v":845},{"d":"2011-09-06","s":"2011-S1","v":855},{"d":"2011-09-08","s":"2011-S1","v":840},{"d":"2011-09-13","s":"2011-S1","v":825},{"d":"2011-09-16","s":"2011-S1","v":825},{"d":"2011-09-22","s":"2011-S1","v":830},{"d":"2011-09-26","s":"2011-S1","v":840},
      {"d":"2011-10-01","s":"2011-S1","v":840},{"d":"2011-10-04","s":"2011-S1","v":815},{"d":"2011-10-09","s":"2011-S1","v":825},{"d":"2011-10-12","s":"2011-S1","v":840},{"d":"2011-10-17","s":"2011-S1","v":845},{"d":"2011-10-19","s":"2011-S1","v":825},{"d":"2011-10-23","s":"2011-S1","v":770},{"d":"2011-10-25","s":"2011-S1","v":795},{"d":"2011-10-29","s":"2011-S1","v":845},{"d":"2011-10-31","s":"2011-S1","v":870},
      {"d":"2011-11-05","s":"2011-S1","v":875},{"d":"2011-11-08","s":"2011-S1","v":880},{"d":"2011-11-11","s":"2011-S1","v":880},{"d":"2011-11-16","s":"2011-S1","v":875},{"d":"2011-11-22","s":"2011-S1","v":845},{"d":"2011-11-25","s":"2011-S1","v":840},
      {"d":"2011-12-01","s":"2011-S1","v":840},{"d":"2011-12-06","s":"2011-S1","v":835},{"d":"2011-12-11","s":"2011-S1","v":835},{"d":"2011-12-18","s":"2011-S1","v":825},{"d":"2011-12-25","s":"2011-S1","v":845},{"d":"2011-12-27","s":"2011-S1","v":860},{"d":"2011-12-31","s":"2011-S1","v":845},

      {"d":"2011-01-01","s":"2011-S2","v":790},{"d":"2011-01-03","s":"2011-S2","v":770},{"d":"2011-01-07","s":"2011-S2","v":825},{"d":"2011-01-12","s":"2011-S2","v":845},{"d":"2011-01-16","s":"2011-S2","v":835},{"d":"2011-01-19","s":"2011-S2","v":805},{"d":"2011-01-23","s":"2011-S2","v":780},{"d":"2011-01-26","s":"2011-S2","v":795},{"d":"2011-01-29","s":"2011-S2","v":855},
      {"d":"2011-02-02","s":"2011-S2","v":880},{"d":"2011-02-04","s":"2011-S2","v":890},{"d":"2011-02-09","s":"2011-S2","v":905},{"d":"2011-02-12","s":"2011-S2","v":900},{"d":"2011-02-17","s":"2011-S2","v":860},{"d":"2011-02-20","s":"2011-S2","v":855},{"d":"2011-02-24","s":"2011-S2","v":790},
      {"d":"2011-03-01","s":"2011-S2","v":750},{"d":"2011-03-03","s":"2011-S2","v":780},{"d":"2011-03-06","s":"2011-S2","v":890},{"d":"2011-03-10","s":"2011-S2","v":935},{"d":"2011-03-14","s":"2011-S2","v":925},{"d":"2011-03-19","s":"2011-S2","v":900},{"d":"2011-03-22","s":"2011-S2","v":880},{"d":"2011-03-27","s":"2011-S2","v":945},
      {"d":"2011-04-03","s":"2011-S2","v":945},{"d":"2011-04-09","s":"2011-S2","v":945},{"d":"2011-04-13","s":"2011-S2","v":945},{"d":"2011-04-17","s":"2011-S2","v":880},{"d":"2011-04-21","s":"2011-S2","v":795},{"d":"2011-04-25","s":"2011-S2","v":855},{"d":"2011-04-28","s":"2011-S2","v":890},
      {"d":"2011-05-02","s":"2011-S2","v":945},{"d":"2011-05-05","s":"2011-S2","v":945},{"d":"2011-05-10","s":"2011-S2","v":935},{"d":"2011-05-14","s":"2011-S2","v":980},{"d":"2011-05-18","s":"2011-S2","v":945},{"d":"2011-05-20","s":"2011-S2","v":910},{"d":"2011-05-25","s":"2011-S2","v":945},{"d":"2011-05-28","s":"2011-S2","v":965},
      {"d":"2011-06-01","s":"2011-S2","v":935},{"d":"2011-06-03","s":"2011-S2","v":970},{"d":"2011-06-05","s":"2011-S2","v":1010},{"d":"2011-06-10","s":"2011-S2","v":1035},{"d":"2011-06-12","s":"2011-S2","v":1010},{"d":"2011-06-18","s":"2011-S2","v":1020},{"d":"2011-06-23","s":"2011-S2","v":1095},{"d":"2011-06-26","s":"2011-S2","v":1120},{"d":"2011-06-29","s":"2011-S2","v":1095},
      {"d":"2011-07-01","s":"2011-S2","v":1065},{"d":"2011-07-05","s":"2011-S2","v":1010},{"d":"2011-07-06","s":"2011-S2","v":985},{"d":"2011-07-11","s":"2011-S2","v":920},{"d":"2011-07-12","s":"2011-S2","v":900},{"d":"2011-07-15","s":"2011-S2","v":965},{"d":"2011-07-17","s":"2011-S2","v":980},{"d":"2011-07-21","s":"2011-S2","v":965},{"d":"2011-07-23","s":"2011-S2","v":945},{"d":"2011-07-26","s":"2011-S2","v":880},{"d":"2011-07-29","s":"2011-S2","v":875},
      {"d":"2011-08-02","s":"2011-S2","v":905},{"d":"2011-08-06","s":"2011-S2","v":905},{"d":"2011-08-09","s":"2011-S2","v":855},{"d":"2011-08-13","s":"2011-S2","v":825},{"d":"2011-08-16","s":"2011-S2","v":835},{"d":"2011-08-19","s":"2011-S2","v":935},{"d":"2011-08-21","s":"2011-S2","v":965},{"d":"2011-08-26","s":"2011-S2","v":970},
      {"d":"2011-09-02","s":"2011-S2","v":925},{"d":"2011-09-09","s":"2011-S2","v":935},{"d":"2011-09-12","s":"2011-S2","v":920},{"d":"2011-09-16","s":"2011-S2","v":905},{"d":"2011-09-25","s":"2011-S2","v":925},{"d":"2011-09-27","s":"2011-S2","v":945},
      {"d":"2011-10-02","s":"2011-S2","v":945},{"d":"2011-10-04","s":"2011-S2","v":910},{"d":"2011-10-09","s":"2011-S2","v":890},{"d":"2011-10-11","s":"2011-S2","v":905},{"d":"2011-10-17","s":"2011-S2","v":845},{"d":"2011-10-21","s":"2011-S2","v":760},{"d":"2011-10-22","s":"2011-S2","v":730},{"d":"2011-10-25","s":"2011-S2","v":745},{"d":"2011-10-27","s":"2011-S2","v":780},{"d":"2011-10-30","s":"2011-S2","v":860},
      {"d":"2011-11-03","s":"2011-S2","v":920},{"d":"2011-11-06","s":"2011-S2","v":920},{"d":"2011-11-11","s":"2011-S2","v":905},{"d":"2011-11-17","s":"2011-S2","v":890},{"d":"2011-11-22","s":"2011-S2","v":890},{"d":"2011-11-28","s":"2011-S2","v":910},
      {"d":"2011-12-05","s":"2011-S2","v":875},{"d":"2011-12-08","s":"2011-S2","v":860},{"d":"2011-12-13","s":"2011-S2","v":870},{"d":"2011-12-18","s":"2011-S2","v":855},{"d":"2011-12-22","s":"2011-S2","v":875},{"d":"2011-12-26","s":"2011-S2","v":870},{"d":"2011-12-30","s":"2011-S2","v":840},{"d":"2011-12-31","s":"2011-S2","v":780}
    ]
  },
  "config": {
    "font": "Liberation Sans",
    "view": {"fill": "#c0c0c0", "stroke": "#808080", "strokeWidth": 1.5},
    "axis": {"labelFont": "Liberation Sans", "labelFontSize": 20, "labelColor": "#000000", "titleFont": "Liberation Sans", "titleFontSize": 20, "titleFontWeight": "bold", "titleColor": "#000000", "domainColor": "#000000", "domainWidth": 2, "tickColor": "#000000", "tickWidth": 2, "tickSize": 6}
  },
  "resolve": {"scale": {"y": "independent"}},
  "layer": [
    {
      "data": {"name": "solid"},
      "mark": {"type": "line", "strokeWidth": 1.6, "clip": true},
      "encoding": {
        "x": {
          "field": "d", "type": "temporal",
          "scale": {"type": "utc", "domain": [{"year": 2011, "month": 1, "date": 1, "utc": true}, {"year": 2012, "month": 1, "date": 1, "utc": true}]},
          "axis": {
            "title": "Dato", "titlePadding": 10,
            "values": [
              {"year": 2011, "month": 1, "date": 1, "utc": true}, {"year": 2011, "month": 2, "date": 1, "utc": true}, {"year": 2011, "month": 3, "date": 1, "utc": true}, {"year": 2011, "month": 4, "date": 1, "utc": true},
              {"year": 2011, "month": 5, "date": 1, "utc": true}, {"year": 2011, "month": 6, "date": 1, "utc": true}, {"year": 2011, "month": 7, "date": 1, "utc": true}, {"year": 2011, "month": 8, "date": 1, "utc": true},
              {"year": 2011, "month": 9, "date": 1, "utc": true}, {"year": 2011, "month": 10, "date": 1, "utc": true}, {"year": 2011, "month": 11, "date": 1, "utc": true}, {"year": 2011, "month": 12, "date": 1, "utc": true}
            ],
            "labelExpr": "utcmonth(datum.value) % 2 === 0 ? utcFormat(datum.value, '%d-%m-%y') : ''",
            "labelPadding": 4,
            "labelFlush": false,
            "labelOverlap": false,
            "grid": true,
            "gridColor": {"condition": {"test": "utcmonth(datum.value) % 2 === 0", "value": "#000000"}, "value": "#a4a4a4"},
            "gridWidth": {"condition": {"test": "utcmonth(datum.value) % 2 === 0", "value": 2}, "value": 1},
            "tickOpacity": {"condition": {"test": "utcmonth(datum.value) % 2 === 0", "value": 1}, "value": 0}
          }
        },
        "y": {
          "field": "v", "type": "quantitative",
          "scale": {"domain": [0, 7], "nice": false},
          "axis": {
            "title": "Natforbrug", "titleX": -49, "titleY": 372, "titleAngle": -90, "titleBaseline": "bottom", "titleAlign": "center",
            "values": [0, 0.2, 0.4, 0.6, 0.8, 1, 1.2, 1.4, 1.6, 1.8, 2, 2.2, 2.4, 2.6, 2.8, 3, 3.2, 3.4, 3.6, 3.8, 4, 4.2, 4.4, 4.6, 4.8, 5, 5.2, 5.4, 5.6, 5.8, 6, 6.2, 6.4, 6.6, 6.8, 7],
            "labelExpr": "abs(datum.value - round(datum.value)) < 0.01 ? format(datum.value, 'd') : ''",
            "labelPadding": 10,
            "labelOverlap": false,
            "grid": true,
            "gridColor": {"condition": {"test": "abs(datum.value - round(datum.value)) < 0.01", "value": "#000000"}, "value": "#808080"},
            "gridDash": {"condition": {"test": "abs(datum.value - round(datum.value)) < 0.01", "value": []}, "value": [5, 3]},
            "gridWidth": {"condition": {"test": "abs(datum.value - round(datum.value)) < 0.01", "value": 2}, "value": 1}
          }
        },
        "color": {
          "field": "s", "type": "nominal",
          "scale": {"domain": ["Nat", "S1+S2", "S1", "S2", "2010", "2011", "2011-S1", "2011-S2"], "range": ["#00ff00", "#0000ff", "#ff00ff", "#ffff00", "#ff0000", "#0000ff", "#ff00ff", "#ffff00"]},
          "legend": {
            "orient": "none", "legendX": 1043, "legendY": 32, "title": null,
            "symbolType": "stroke", "symbolSize": 4096, "symbolStrokeWidth": 2, "symbolOffset": 25,
            "labelFont": "Liberation Sans", "labelFontSize": 16, "labelColor": "#000000", "labelOffset": 32, "labelLimit": 300,
            "padding": 10, "rowPadding": 17, "strokeColor": "#000000", "fillColor": "#ffffff",
            "encode": {"symbols": {"update": {
              "strokeDash": {"signal": "indexof(['2010','2011','2011-S1','2011-S2'], datum.value) >= 0 ? [16, 9] : [1, 0]"},
              "strokeWidth": {"signal": "indexof(['2010','2011','2011-S1','2011-S2'], datum.value) >= 0 ? 4 : 2"}
            }}}
          }
        },
        "detail": {"field": "s", "type": "nominal"}
      }
    },
    {
      "data": {"name": "dashed"},
      "mark": {"type": "line", "strokeWidth": 3.5, "strokeDash": [12, 8], "clip": true},
      "encoding": {
        "x": {"field": "d", "type": "temporal"},
        "y": {
          "field": "v", "type": "quantitative",
          "scale": {"domain": [0, 3500], "nice": false},
          "axis": {
            "orient": "right", "title": "Ugeforbrug", "titleX": 132, "titleY": 377, "titleAngle": -90, "titleBaseline": "bottom", "titleAlign": "center",
            "values": [0, 500, 1000, 1500, 2000, 2500, 3000, 3500],
            "labelExpr": "replace(format(datum.value, ','), ',', '.')",
            "labelPadding": 10,
            "domainColor": "#808080",
            "grid": false
          }
        },
        "color": {"field": "s", "type": "nominal"},
        "detail": {"field": "s", "type": "nominal"}
      }
    }
  ]
}
